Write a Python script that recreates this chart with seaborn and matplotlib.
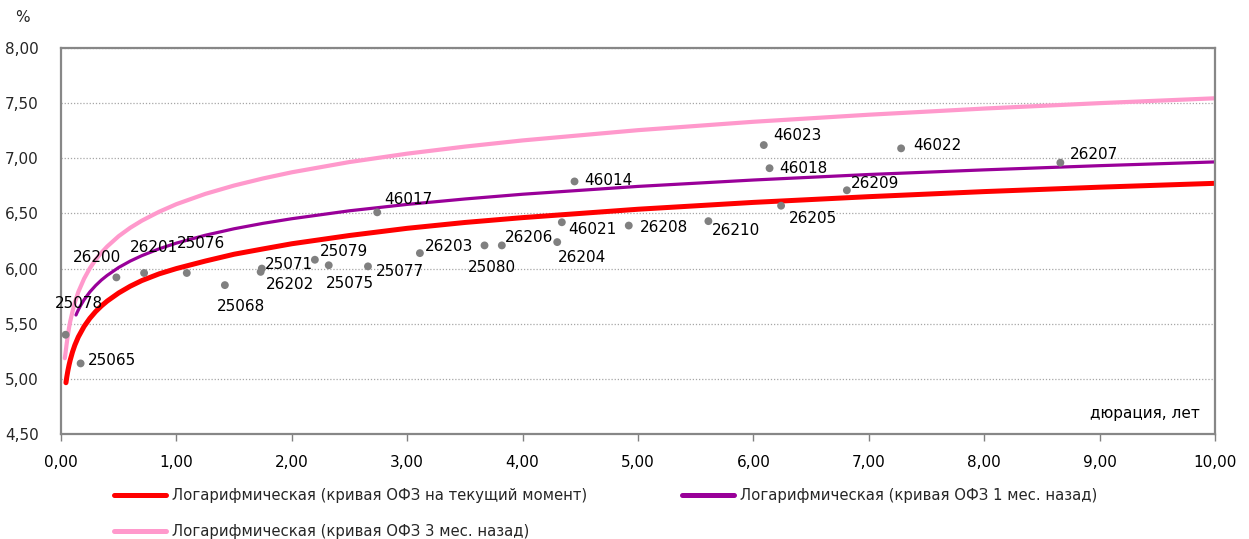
import matplotlib
matplotlib.use("Agg")
import matplotlib.pyplot as plt
import seaborn as sns
import numpy as np
import pandas as pd

# ---- data: bonds (duration, yield) ----
bond_names = ["25078", "25065", "26200", "26201", "25076", "25068", "25071", "26202",
              "25079", "25075", "25077", "46017", "26203", "25080", "26206", "26204",
              "46021", "46014", "26208", "26210", "46023", "46018", "26205", "26209",
              "46022", "26207"]
bond_duration = [0.04, 0.17, 0.48, 0.72, 1.09, 1.42, 1.74, 1.73,
                 2.20, 2.32, 2.66, 2.74, 3.11, 3.67, 3.82, 4.30,
                 4.34, 4.45, 4.92, 5.61, 6.09, 6.14, 6.24, 6.81,
                 7.28, 8.66]
bond_yield = [5.40, 5.14, 5.92, 5.96, 5.96, 5.85, 6.00, 5.97,
              6.08, 6.03, 6.02, 6.51, 6.14, 6.21, 6.21, 6.24,
              6.42, 6.79, 6.39, 6.43, 7.12, 6.91, 6.57, 6.71,
              7.09, 6.96]
# label offsets (pixels) of each bond label relative to its dot
label_dx = [-11, 7, -44, -14, -10, -8, 3, 5, 5, -3, 8, 7, 5, -17, 3, 1,
            6, 10, 11, 3, 9, 10, 8, 4, 12, 10]
label_dy = [31, 3, 20, 25, 29, -21, 4, -13, 8, -18, -5, 13, 7, -22, 8, -15,
            -7, 1, -2, -9, 10, 0, -13, 7, 3, 8]

# ---- data: curves ----
cur_x = [0.043, 0.05, 0.06, 0.07, 0.08, 0.1, 0.12, 0.15, 0.2, 0.25, 0.3, 0.35, 0.4,
         0.5, 0.6, 0.7, 0.85, 1, 1.25, 1.5, 1.75, 2, 2.5, 3, 3.5,
         4, 5, 6, 7, 8, 9, 10]
cur_y = [4.965, 5.016, 5.076, 5.127, 5.171, 5.245, 5.306, 5.380, 5.475, 5.549, 5.610,
         5.661, 5.705, 5.779, 5.840, 5.891, 5.952, 6.000, 6.068, 6.130, 6.178, 6.225,
         6.300, 6.365, 6.418, 6.462, 6.538, 6.600, 6.652, 6.698, 6.738, 6.773]
m1_x = [0.13, 0.14, 0.15, 0.17, 0.2, 0.25, 0.3, 0.35, 0.4, 0.5, 0.6, 0.7, 0.85, 1,
        1.25, 1.5, 1.75, 2, 2.5, 3, 3.5, 4, 5, 6, 7, 8, 9, 10]
m1_y = [5.579, 5.603, 5.625, 5.665, 5.717, 5.788, 5.846, 5.896, 5.938, 6.010, 6.068,
        6.117, 6.179, 6.231, 6.302, 6.361, 6.410, 6.452, 6.524, 6.582, 6.631, 6.674,
        6.745, 6.803, 6.853, 6.895, 6.933, 6.967]
m3_x = [0.033, 0.04, 0.05, 0.06, 0.07, 0.08, 0.1, 0.12, 0.15, 0.2, 0.25, 0.3, 0.35,
        0.4, 0.5, 0.6, 0.7, 0.85, 1, 1.25, 1.5, 1.75, 2, 2.5, 3, 3.5,
        4, 5, 6, 7, 8, 9, 10]
m3_y = [5.187, 5.242, 5.325, 5.400, 5.465, 5.521, 5.612, 5.692, 5.788, 5.908, 6.003,
        6.080, 6.144, 6.200, 6.294, 6.370, 6.434, 6.515, 6.584, 6.677, 6.753, 6.817,
        6.873, 6.966, 7.042, 7.106, 7.162, 7.255, 7.331, 7.395, 7.451, 7.500, 7.544]

series_labels = ["Логарифмическая (кривая ОФЗ на текущий момент)",
                 "Логарифмическая (кривая ОФЗ 1 мес. назад)",
                 "Логарифмическая (кривая ОФЗ 3 мес. назад)"]
x_ticks = [0, 1, 2, 3, 4, 5, 6, 7, 8, 9, 10]
y_ticks = [4.5, 5.0, 5.5, 6.0, 6.5, 7.0, 7.5, 8.0]

sns.set_theme(style="white")
plt.rcParams['font.family'] = ['DejaVu Sans']
FS = 11
LFS = 10.7

fig = plt.figure(figsize=(12.49, 5.39), dpi=100)
ax = fig.add_axes([61 / 1249, 1 - 434 / 539, (1215 - 61) / 1249, (434 - 48) / 539])

sns.lineplot(x=m3_x, y=m3_y, ax=ax, color="#FF99CC", linewidth=3.0,
             label=series_labels[2], sort=False, estimator=None)
sns.lineplot(x=m1_x, y=m1_y, ax=ax, color="#990099", linewidth=2.3,
             label=series_labels[1], sort=False, estimator=None)
sns.lineplot(x=cur_x, y=cur_y, ax=ax, color="#FF0000", linewidth=3.6,
             label=series_labels[0], sort=False, estimator=None)
sns.scatterplot(x=bond_duration, y=bond_yield, ax=ax, color="#808080", s=32,
                edgecolor="none", zorder=5)

for name, xv, yv, dx, dy in zip(bond_names, bond_duration, bond_yield, label_dx, label_dy):
    ax.annotate(name, (xv, yv), xytext=(dx, dy), textcoords="offset pixels",
                ha="left", va="center", fontsize=FS, color="black", zorder=6)

ax.set_xlim(0, 10)
ax.set_ylim(4.5, 8.0)
ax.set_xticks(x_ticks)
ax.set_yticks(y_ticks)
ax.set_xticklabels([f"{v:.2f}".replace(".", ",") for v in x_ticks], fontsize=FS)
ax.set_yticklabels([f"{v:.2f}".replace(".", ",") for v in y_ticks], fontsize=FS)
ax.tick_params(axis="x", length=5, width=1, direction="out",
               bottom=True, pad=10, labelcolor="black", color="#808080")
ax.tick_params(axis="y", length=0, pad=16)
ax.yaxis.grid(True, linestyle=(0, (1, 1.5)), color="#A6A6A6", linewidth=0.9)
ax.xaxis.grid(False)
for sp in ax.spines.values():
    sp.set_visible(True)
    sp.set_color("#878787")
    sp.set_linewidth(1.6)
ax.set_xlabel("")
ax.set_ylabel("")

ax.text(0.987, 0.054, "дюрация, лет", transform=ax.transAxes, ha="right",
        va="center", fontsize=FS, color="black")
fig.text(22 / 1249, 1 - 18 / 539, "%", ha="center", va="center", fontsize=FS)

handles, labels = ax.get_legend_handles_labels()
order = {lab: h for h, lab in zip(handles, labels)}
leg_h = [order[series_labels[0]], order[series_labels[2]], order[series_labels[1]]]
leg_l = [series_labels[0], series_labels[2], series_labels[1]]
ax.legend(leg_h, leg_l, ncol=2, frameon=False, fontsize=LFS,
          loc="upper left", bbox_to_anchor=(114 / 1249, 1 - 488 / 539),
          bbox_transform=fig.transFigure, borderpad=0, borderaxespad=0,
          handlelength=3.5, handletextpad=0.4, labelspacing=1.42, columnspacing=6.4)
for line in ax.get_legend().get_lines():
    line.set_linewidth(3.6)

fig.savefig("out.png", dpi=100)
